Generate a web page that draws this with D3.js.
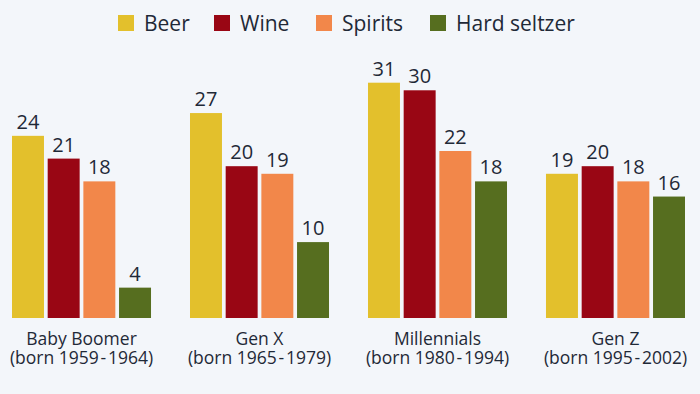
<!DOCTYPE html>
<html lang="en">
  <head>
    <meta charset="utf-8">
    <script src="https://cdnjs.cloudflare.com/ajax/libs/d3/7.8.5/d3.min.js"></script>
    <style>
      body { margin: 0; background: #f3f6fa; }
      svg { display: block; font-family: 'Open Sans', sans-serif; }
    </style>
  </head>
  <body>
    <div id="chart"></div>
    <script>
      // data
      var generations = ['Baby Boomer', 'Gen X', 'Millennials', 'Gen Z'];
      var bornLabels = ['(born 1959\u200A-\u200A1964)', '(born 1965\u200A-\u200A1979)', '(born 1980\u200A-\u200A1994)', '(born 1995\u200A-\u200A2002)'];
      var drinks = ['Beer', 'Wine', 'Spirits', 'Hard seltzer'];
      var beer = [24, 27, 31, 19];
      var wine = [21, 20, 30, 20];
      var spirits = [18, 19, 22, 18];
      var hardSeltzer = [4, 10, 18, 16];
      var colors = ['#e3c02c', '#990614', '#f2874a', '#566e1f'];

      var seriesValues = [beer, wine, spirits, hardSeltzer];

      var width = 700, height = 394;
      var baseline = 318, topY = 82.7;

      var svg = d3.select('#chart').append('svg')
        .attr('width', width)
        .attr('height', height);

      svg.append('rect')
        .attr('width', width).attr('height', height)
        .attr('fill', '#f3f6fa');

      // scales
      var x0 = d3.scaleBand()
        .domain(generations)
        .range([12, 685])
        .paddingInner(0.219)
        .paddingOuter(0);

      var x1 = d3.scaleBand()
        .domain(drinks)
        .range([0, x0.bandwidth()])
        .paddingInner(0.104)
        .paddingOuter(0);

      var y = d3.scaleLinear()
        .domain([0, 31])
        .range([baseline, topY]);

      var color = d3.scaleOrdinal().domain(drinks).range(colors);

      // bars
      var groups = svg.selectAll('g.gen')
        .data(generations)
        .enter().append('g')
        .attr('class', 'gen')
        .attr('transform', function(d){ return 'translate(' + x0(d) + ',0)'; });

      var cells = groups.selectAll('g.cell')
        .data(function(d, gi){
          return drinks.map(function(k, si){ return {drink: k, value: seriesValues[si][gi]}; });
        })
        .enter().append('g');

      cells.append('rect')
        .attr('x', function(d){ return x1(d.drink); })
        .attr('y', function(d){ return y(d.value); })
        .attr('width', x1.bandwidth())
        .attr('height', function(d){ return baseline - y(d.value); })
        .attr('fill', function(d){ return color(d.drink); });

      cells.append('text')
        .attr('x', function(d){ return x1(d.drink) + x1.bandwidth() / 2; })
        .attr('y', function(d){ return y(d.value) - 7; })
        .attr('text-anchor', 'middle')
        .attr('font-size', 20)
        .attr('fill', '#1f2937')
        .text(function(d){ return d.value; });

      // category labels, two lines
      generations.forEach(function(g, i){
        var cx = x0(g) + x0.bandwidth() / 2;
        var label = svg.append('text')
          .attr('text-anchor', 'middle')
          .attr('font-size', 17.5)
          .attr('fill', '#1f2937');
        label.append('tspan').attr('x', cx).attr('y', 344.5).text(g);
        label.append('tspan').attr('x', cx).attr('y', 364).text(bornLabels[i]);
      });

      // legend
      var legendX = [118, 214, 316, 430];
      var legend = svg.selectAll('g.legend')
        .data(drinks)
        .enter().append('g')
        .attr('class', 'legend')
        .attr('transform', function(d, i){ return 'translate(' + legendX[i] + ',15)'; });

      legend.append('rect')
        .attr('width', 16).attr('height', 16)
        .attr('fill', function(d){ return color(d); });

      legend.append('text')
        .attr('x', 26).attr('y', 16)
        .attr('font-size', 21)
        .attr('fill', '#1f2937')
        .text(function(d){ return d; });
    </script>
  </body>
</html>
